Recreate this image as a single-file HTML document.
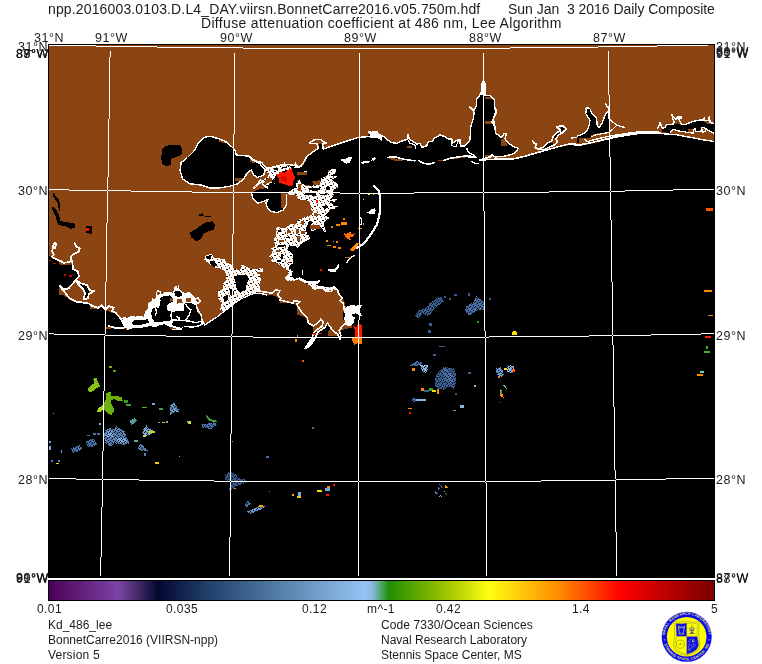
<!DOCTYPE html>
<html><head><meta charset="utf-8">
<style>
html,body{margin:0;padding:0;background:#fff;}
body{width:762px;height:664px;position:relative;overflow:hidden;font-family:"Liberation Sans",sans-serif;}
.t{will-change:transform;position:absolute;white-space:pre;font-size:12px;line-height:14px;color:#1c1c1c;transform-origin:0 0;}
#map{position:absolute;left:0;top:0;}
.a{font-size:12.5px;letter-spacing:0.5px;}
.c{letter-spacing:0.4px;}
</style></head><body>
<svg id="map" width="762" height="664" viewBox="0 0 762 664">
<defs><linearGradient id="cb" x1="0" x2="1" y1="0" y2="0"><stop offset="0.0000" stop-color="#4b0058"/><stop offset="0.1038" stop-color="#7b44a3"/><stop offset="0.1218" stop-color="#5c3680"/><stop offset="0.1639" stop-color="#020830"/><stop offset="0.2391" stop-color="#21406b"/><stop offset="0.3594" stop-color="#5a86b0"/><stop offset="0.4752" stop-color="#96c4f4"/><stop offset="0.4857" stop-color="#8abbe0"/><stop offset="0.5113" stop-color="#1f8f05"/><stop offset="0.5398" stop-color="#4aa000"/><stop offset="0.6030" stop-color="#a8c800"/><stop offset="0.6617" stop-color="#ffff10"/><stop offset="0.7684" stop-color="#ff8800"/><stop offset="0.8286" stop-color="#ff3000"/><stop offset="0.8586" stop-color="#ff0000"/><stop offset="1.0000" stop-color="#7a0000"/></linearGradient>
<pattern id="spk" width="8" height="7" patternUnits="userSpaceOnUse"><rect x="1" y="0" width="1" height="1" fill="#8b4513"/><rect x="5" y="1" width="1" height="2" fill="#8b4513"/><rect x="2" y="3" width="2" height="1" fill="#000"/><rect x="7" y="4" width="1" height="1" fill="#8b4513"/><rect x="0" y="5" width="1" height="1" fill="#000"/><rect x="4" y="6" width="1" height="1" fill="#8b4513"/></pattern>
<pattern id="spk2" width="5" height="5" patternUnits="userSpaceOnUse"><rect x="0" y="1" width="1" height="1" fill="#000"/><rect x="3" y="0" width="1" height="1" fill="#000"/><rect x="2" y="3" width="1" height="1" fill="#000"/><rect x="4" y="2" width="1" height="1" fill="#000"/><rect x="1" y="4" width="1" height="1" fill="#000" opacity="0.6"/><rect x="1" y="2" width="2" height="1" fill="#000" opacity="0.35"/></pattern>
<clipPath id="mc"><rect x="49" y="45" width="665" height="532"/></clipPath></defs>
<rect x="48" y="44" width="667" height="534" fill="#000" shape-rendering="crispEdges"/>
<g clip-path="url(#mc)" shape-rendering="crispEdges">
<path d="M49 45 L49 256 L49 256 L52.2 258.5 L58 261 L60 265.2 L67.2 265.2 L71.3 264 L73 269.3 L78.5 271.3 L79.2 276.8 L76 279.7 L70.5 285.2 L64.7 289.3 L59 286.8 L59 295.2 L63.8 295.2 L68.8 299.3 L74.7 302.3 L83.8 303 L89.7 304.7 L90.5 308.7 L98 308.7 L103 306.8 L105.5 310.2 L112.2 313 L114.7 311.3 L118 316 L121.3 320.2 L123.8 326 L126.3 329.3 L127.1 330.2 L131.8 328.4 L141.3 327.8 L150.7 326.1 L155.4 327.2 L160.2 324.9 L164.9 324.3 L169.6 326.7 L172 329.6 L181.4 329.6 L183.8 327.2 L193.2 327.8 L200.3 326.1 L205 323.7 L211.7 320 L218.3 315.8 L223.3 311.7 L230 306.7 L235 302.5 L240 299.2 L246.7 295.8 L253.3 293.3 L260 293 L267 294.7 L275 295.8 L280 300 L280 303.3 L293.3 303.3 L296.7 306.7 L296.7 315 L302.5 315.8 L305.8 318.3 L307.5 323.3 L312.5 326.7 L312.5 330.8 L316.7 331.7 L323.3 328.3 L326.7 325 L330.8 327.5 L328.3 331.7 L328.3 335.8 L338.3 335.8 L341.7 330 L345.8 329.2 L351.7 327.5 L351.7 320 L343.3 320 L343.3 312.5 L345.8 308.3 L345 303.3 L341.7 295.8 L337.5 292.5 L335 286.7 L330.8 288.3 L326.7 290.8 L321.7 288.3 L311.7 288.3 L311.7 283.3 L305 282.5 L300 279.2 L293.3 280 L285.8 278.3 L289.8 274.3 L291.4 274.8 L292.9 271.1 L288.7 269.5 L290.3 265.3 L292.9 263.2 L293.5 258.5 L292.4 253.7 L289.2 250.6 L287.7 248.5 L289.2 245.3 L296.1 246.4 L297.7 248.5 L300.8 244.2 L304.5 241.6 L308.2 240 L310.3 237.9 L305.6 230.5 L307.2 226.3 L309.3 220 L309.2 220.6 L312.4 222.7 L309.8 225.9 L311.4 231.1 L315.6 230.1 L317.7 225.9 L321.4 227.4 L324 231.7 L326.6 232.2 L324 225.9 L324 222.7 L326.1 220.1 L329.3 218 L325.1 215.3 L328.2 212.2 L330.3 209.5 L334.5 209 L337.7 206.4 L334.5 206.4 L331.4 202.7 L334.5 201.6 L337.7 199 L331.4 198.5 L334 194.2 L332.4 192.7 L334.5 189 L338.2 187.4 L337.7 183.7 L334.5 181.6 L332.4 179.5 L337.7 176.3 L333.5 175.3 L335.6 173.2 L336.6 170 L333.3 175 L328.3 176.7 L320 180 L312.5 181.7 L305 175 L305 169.2 L303.3 165.8 L306.7 156.7 L313.3 151.7 L318.3 148.3 L318.7 143.7 L323 144.2 L323.3 149.2 L330 146.7 L340 143.3 L350 140 L358.3 137.5 L366.7 136.7 L370 133.3 L376.7 131.7 L379.2 134.2 L385 137.5 L390.8 142.5 L396.7 143.3 L402.5 140.8 L407.5 139.2 L409.2 139.2 L413.3 141.7 L416.7 144.2 L420 143.3 L421.7 147.5 L426.7 145.8 L428.3 141.7 L432.5 141.7 L434.2 138.3 L440 135 L445 136.7 L448.3 139.2 L451.7 138.3 L452.5 143.3 L458.3 139.2 L460.8 145.8 L465 145.8 L467.5 143.3 L470 140 L470.8 126.7 L473.3 118.3 L474.2 112.5 L476.7 105 L476.7 99.2 L480 95 L485 95 L490 95.8 L494.2 99.2 L494.2 105.8 L495.8 111.7 L493.3 118.3 L494.2 123.3 L495.8 133.3 L495.8 133.3 L501.7 137.5 L506.7 141.7 L513.3 146.7 L518.3 148.3 L515.8 151.7 L512.5 154.2 L501.7 156.7 L495 156.7 L491.7 155 L488.3 157.5 L480 159.2 L480 160.8 L496.7 160 L511.7 159.7 L523.3 157 L535 153.7 L546.7 150.3 L558.3 147.5 L570 145.2 L580 145.8 L590 144.2 L600 141.7 L610 138.7 L623.3 136.2 L636.7 134.5 L645 134 L656.7 134 L666.7 134.7 L676.7 135.5 L690 138 L703.3 140.5 L714 142.3 L714 142.3 L714 45Z" fill="#8b4513"/>
<path d="M106.3 326.8 L110.5 327.3 L110.5 328.7 L106.3 328.7Z" fill="#8b4513"/>
<path d="M76.7 281.3 L81.3 284 L86.7 285.3 L89.2 289.7 L88.5 296.3 L85 298 L85.7 292.3 L82.3 289.7 L80.7 286 L77.3 284ZM251.7 192.5 L252.5 198.3 L257.5 203.3 L265 200.8 L268.3 199.2 L265.8 203.3 L267.5 208.3 L271.7 211.7 L277.5 212.5 L283.3 210 L286.3 205 L286.7 195 L287.5 192.5ZM302 166.5 L299.6 168 L292.5 167.4 L290.2 169.2 L285.4 170.4 L281.9 171.6 L279.5 173.3 L276 175.7 L273.6 179.3 L271.8 182.8 L268.9 184 L267.7 188.7 L265.4 188.1 L257.1 189.9 L252.4 192.2 L290.2 192.5 L292.5 189.9 L297.2 187.5 L297.2 180.4 L299.6 179.3 L302 184 L306.7 185.2 L312.6 185.7 L312.6 181.6 L305.5 175.1 L305.5 169.2 L303.7 166ZM250 157.4 L252.4 160.1 L257.1 161.3 L261.8 163.7 L264.8 166.5 L265.6 169.8 L263 174.5 L260 177.5 L257.1 178.3 L254.1 175.9 L251.8 171.6 L250 169.8ZM544.2 147.5 L548.3 143.3 L553.3 142.5 L552.5 145 L546.7 148.3ZM553.3 135.8 L556.7 132.5 L561.7 127.5 L564.2 130 L558.3 134.2 L555 138.3ZM585.7 108.4 L588.3 107.9 L590.4 109.4 L591.5 112.6 L594.6 115.7 L596.7 118.9 L597.3 126.2 L599.4 127.8 L602 123.1 L604.1 117.8 L606.2 112.6 L608.3 112.1 L608.8 117.8 L609.3 120.5 L609.3 131.5 L606.2 132 L602 133.1 L595.7 133.6 L591.5 135.2 L589.9 137.8 L585.2 138.3 L582.6 138.3 L579.4 138.3 L578.9 143 L576.8 143 L577.3 136.2 L581 134.6 L585.2 132.5 L587.8 129.4 L589.4 124.1 L589.9 120.5 L587.8 116.8 L586.2 113.6 L586.8 110.5ZM560.5 127.8 L563.1 126.8 L564.7 128.9 L562.6 130.7 L560.5 131.3ZM661.9 129.4 L665.6 127.6 L666.5 125.3 L673 124.3 L677.6 123.4 L682.2 125.3 L686.7 124.3 L691.3 122.5 L695 121.6 L699.6 120.7 L703.7 121.1 L705.1 123.4 L709.7 123.7 L714 124.1 L714 133.5 L708.8 130.3 L706 128.5 L701.4 127.1 L701 131.2 L695.9 131.7 L695 128.5 L693.2 129.4 L687.7 129.4 L687.7 132.2 L684 131.7 L677.6 130.8 L673.9 129.4 L671.1 130.8 L669.8 132.6 L666.5 132.6 L661.9 131.7ZM180 170 L181.2 162.5 L187.5 157.5 L193.8 151.2 L198.8 142.5 L203.8 137.5 L210 136.2 L218.8 138.8 L225 141.2 L231.2 146.2 L235 150 L236.2 155 L248.8 156.2 L252.5 160 L260 163.8 L265 170 L263.8 175 L257.5 177.5 L253.8 175 L251.2 170 L247.5 172.5 L243.8 178.8 L237.5 183.8 L230 186.2 L218.8 188 L210 188 L201.2 185 L190 183.8 L182.5 178.8ZM162 150 L165 146.2 L172.5 144.5 L180 145.5 L182.5 150 L181.2 155 L175 157.5 L171.2 158.8 L170.5 165 L166.2 166.2 L162 163.8 L161.2 157.5ZM190 232.5 L196.2 228.8 L201.2 225 L206.2 222.5 L212.5 221.2 L215 225 L213.8 229.5 L208.8 231.2 L203.8 233.8 L201.2 238.8 L196.2 241.2 L191.2 237.5ZM198.8 214.5 L202.5 213.2 L203.8 215.5 L211.2 216 L211.2 217 L198.8 216ZM53 192.5 L59.2 200 L60.5 210 L59.2 211.2 L57.5 202.5 L53 196.2ZM51.8 206.2 L55.5 208.8 L59.2 215 L60.5 221.2 L69.2 222.5 L74.2 223 L75.5 227.5 L70.5 228.8 L65.5 226.2 L58 225 L55.5 216.2 L51.8 208.8ZM85.5 226.2 L91.8 226.2 L91.8 234.5 L85.5 232.5Z" fill="#000"/>
<path d="M122.4 318.4 L123.5 316.6 L127.1 317.8 L131.8 315.4 L135.4 316.6 L140.1 315.4 L143.6 316.6 L145.4 310.7 L147.8 308.3 L147.8 303.6 L151.3 301.3 L152.5 298.3 L155.4 298.9 L156 293 L157.8 290 L160.7 291.2 L160.7 294.8 L164.3 292.4 L169.6 291.8 L173.1 293 L174.3 287.1 L176.1 285.3 L177.9 288.3 L178.5 285.3 L179.1 288.9 L182 291.8 L186.1 293 L188.5 291.8 L192 294.2 L195.6 297.7 L198.5 297.7 L200.9 300.7 L199.1 303.6 L196.8 303.6 L197.9 308.3 L201.5 314.3 L202.7 320.2 L205 323.7 L200.3 326.1 L193.2 327.8 L183.8 327.2 L181.4 329.6 L172 329.6 L169.6 326.7 L164.9 324.3 L160.2 324.9 L155.4 327.2 L150.7 326.1 L141.3 327.8 L131.8 328.4 L127.1 330.2 L124.7 327.2 L123 322.5ZM204.2 260 L205.8 255 L211.7 254.2 L214.2 257.5 L218.3 258.3 L225 259.2 L225.8 262.5 L230.8 264.2 L233.3 268.3 L240 270.8 L241.7 264.2 L246.7 266.7 L250.8 269.2 L256.7 269.2 L262.5 267.5 L262.5 271.7 L256.7 271.7 L260 276.7 L259.2 283.3 L260 290.8 L256.7 292.5 L250 293.7 L243.3 296.7 L240 299.2 L235 302.5 L230 306.7 L223.3 311.7 L220 310 L221.7 303.3 L218.3 298.3 L218.3 290.8 L222.5 289.2 L223.3 283.3 L226.7 280 L225 271.7 L220 268.3 L216.7 268.3 L213.3 266.7 L210 264.2ZM344.2 310 L346.7 306.7 L355 305.8 L360.8 305 L359.2 310.8 L361.7 315.8 L355.8 313.3 L350.8 315 L355 317.5 L353.3 323.3 L349.2 326.7 L345.8 325 L345 318.3ZM305 348.3 L308.3 342.5 L311.7 337.5 L314.2 338.3 L311.7 343.3 L308.7 347.5ZM255 273.3 L260 274.2 L260.8 280 L259.2 285 L260.8 291.7 L255 291.7ZM367.5 212.5 L371.7 209.2 L375 208 L375.8 210.8 L374.2 214.2 L370 214.2ZM275.5 229 L278.2 226.3 L280.8 228.4 L286.1 227.4 L291.4 223.7 L295.6 225.3 L299.8 220 L309.3 220 L307.2 226.3 L305.6 230.5 L310.3 237.9 L308.2 240 L304.5 241.6 L300.8 244.2 L297.7 248.5 L296.1 246.4 L289.2 245.3 L287.7 248.5 L289.2 250.6 L292.4 253.7 L293.5 258.5 L292.9 263.2 L290.3 265.3 L288.7 269.5 L292.9 271.1 L291.4 274.8 L294 279 L291.9 281.1 L287.1 280.6 L285.6 278 L289.8 274.3 L286.1 269.5 L281.9 266.4 L277.6 263.2 L270.3 261.1 L272.9 258.5 L269.2 256.4 L272.4 253.2 L271.3 248.5 L275.5 246.4 L273.4 239 L276.6 235.8 L275.5 232.6ZM296.6 278 L299.8 277.4 L306.1 280.6 L311.4 281.7 L319.8 280.1 L318.8 283.2 L315.6 285.3 L321.9 285.9 L327.2 287.5 L333.5 286.4 L337.7 290 L328.2 290 L319.8 288.5 L312.4 288.5 L310.3 285.3 L305.1 283.2 L300.8 281.1ZM287.1 192.7 L291.3 190 L295.5 187.9 L296.6 182.6 L299.8 179.5 L301.9 183.7 L306.1 185.8 L312.4 185.8 L315.6 181.6 L319.8 180.5 L321.9 177.9 L327.2 175.3 L330.3 173.2 L329.3 170 L336.6 170 L335.6 173.2 L333.5 175.3 L337.7 176.3 L332.4 179.5 L334.5 181.6 L337.7 183.7 L338.2 187.4 L334.5 189 L332.4 192.7 L334 194.2 L331.4 198.5 L337.7 199 L334.5 201.6 L331.4 202.7 L334.5 206.4 L337.7 206.4 L334.5 209 L330.3 209.5 L328.2 212.2 L325.1 215.3 L329.3 218 L326.1 220.1 L324 222.7 L324 225.9 L326.6 232.2 L324 231.7 L321.4 227.4 L317.7 225.9 L315.6 230.1 L311.4 231.1 L309.8 225.9 L312.4 222.7 L309.2 220.6 L306.1 222.7 L304 226.9 L306.1 231.1 L305 237.5 L301.9 240 L285 240 L285 231.1 L288.2 227.4 L291.3 223.8 L294.5 224.8 L298.7 219.5 L304 217.4 L310.3 215.3 L313.5 212.2 L310.8 209 L310.3 202.7 L306.1 199.5 L298.7 199.5 L295.5 194.2 L289.2 195.3ZM302.4 172.1 L306.6 171.6 L307.1 173.7 L303.4 174.4ZM339.2 159.7 L345 159.2 L350 156.7 L352 157.5 L350 162.5 L346.7 163.7ZM360 162 L366.7 160.8 L370 161.3 L369.2 163 L361.7 163.7ZM371.3 159.2 L375 157 L376 158.3 L373.3 160.8ZM367.5 130.8 L371.7 131.7 L377 131.3 L377 134.2 L372.5 134.2 L368.3 132.5ZM265.4 168.6 L267.7 167.4 L273.6 166.8 L279.5 165.7 L285.4 164.5 L289 165.7 L296.1 163.9 L297.2 166.3 L302 166.3 L299.6 168 L292.5 167.4 L290.2 169.2 L285.4 170.4 L281.9 171.6 L279.5 173.3 L276 175.7 L273.6 179.3 L271.8 182.8 L268.9 184 L267.7 188.7 L265.4 188.1 L263 185.2 L259.4 184 L255.9 187.5 L254.7 189.3 L252.4 188.7 L257.1 182.8 L260.6 179.3 L263 174.5ZM303.1 171.6 L306.7 171.2 L307.6 173.3 L305.5 174.5 L302.9 173.9ZM370 131.7 L377.5 130.8 L379.2 134.2 L382.5 136.7 L381.7 140.8 L376.7 137.5 L370 136.7ZM480 95 L482 83.3 L483.7 80.8 L485.3 83.3 L485.3 95ZM370.8 160.8 L373.3 157.5 L375.8 157.5 L373.3 160ZM570.5 137 L576.8 136.7 L576.8 138.4 L570.5 138.6ZM628.3 132 L640 131.3 L656.7 131.3 L656.7 133.7 L640 134 L628.3 134.3ZM650 131.2 L655.5 131.2 L661 131.7 L661.5 133.8 L655.5 134.2 L650 134.2Z" fill="#fff"/>
<path d="M204.2 260 L205.8 255 L211.7 254.2 L214.2 257.5 L218.3 258.3 L225 259.2 L225.8 262.5 L230.8 264.2 L233.3 268.3 L240 270.8 L241.7 264.2 L246.7 266.7 L250.8 269.2 L256.7 269.2 L262.5 267.5 L262.5 271.7 L256.7 271.7 L260 276.7 L259.2 283.3 L260 290.8 L256.7 292.5 L250 293.7 L243.3 296.7 L240 299.2 L235 302.5 L230 306.7 L223.3 311.7 L220 310 L221.7 303.3 L218.3 298.3 L218.3 290.8 L222.5 289.2 L223.3 283.3 L226.7 280 L225 271.7 L220 268.3 L216.7 268.3 L213.3 266.7 L210 264.2ZM275.5 229 L278.2 226.3 L280.8 228.4 L286.1 227.4 L291.4 223.7 L295.6 225.3 L299.8 220 L309.3 220 L307.2 226.3 L305.6 230.5 L310.3 237.9 L308.2 240 L304.5 241.6 L300.8 244.2 L297.7 248.5 L296.1 246.4 L289.2 245.3 L287.7 248.5 L289.2 250.6 L292.4 253.7 L293.5 258.5 L292.9 263.2 L290.3 265.3 L288.7 269.5 L292.9 271.1 L291.4 274.8 L294 279 L291.9 281.1 L287.1 280.6 L285.6 278 L289.8 274.3 L286.1 269.5 L281.9 266.4 L277.6 263.2 L270.3 261.1 L272.9 258.5 L269.2 256.4 L272.4 253.2 L271.3 248.5 L275.5 246.4 L273.4 239 L276.6 235.8 L275.5 232.6ZM296.6 278 L299.8 277.4 L306.1 280.6 L311.4 281.7 L319.8 280.1 L318.8 283.2 L315.6 285.3 L321.9 285.9 L327.2 287.5 L333.5 286.4 L337.7 290 L328.2 290 L319.8 288.5 L312.4 288.5 L310.3 285.3 L305.1 283.2 L300.8 281.1ZM287.1 192.7 L291.3 190 L295.5 187.9 L296.6 182.6 L299.8 179.5 L301.9 183.7 L306.1 185.8 L312.4 185.8 L315.6 181.6 L319.8 180.5 L321.9 177.9 L327.2 175.3 L330.3 173.2 L329.3 170 L336.6 170 L335.6 173.2 L333.5 175.3 L337.7 176.3 L332.4 179.5 L334.5 181.6 L337.7 183.7 L338.2 187.4 L334.5 189 L332.4 192.7 L334 194.2 L331.4 198.5 L337.7 199 L334.5 201.6 L331.4 202.7 L334.5 206.4 L337.7 206.4 L334.5 209 L330.3 209.5 L328.2 212.2 L325.1 215.3 L329.3 218 L326.1 220.1 L324 222.7 L324 225.9 L326.6 232.2 L324 231.7 L321.4 227.4 L317.7 225.9 L315.6 230.1 L311.4 231.1 L309.8 225.9 L312.4 222.7 L309.2 220.6 L306.1 222.7 L304 226.9 L306.1 231.1 L305 237.5 L301.9 240 L285 240 L285 231.1 L288.2 227.4 L291.3 223.8 L294.5 224.8 L298.7 219.5 L304 217.4 L310.3 215.3 L313.5 212.2 L310.8 209 L310.3 202.7 L306.1 199.5 L298.7 199.5 L295.5 194.2 L289.2 195.3ZM265.4 168.6 L267.7 167.4 L273.6 166.8 L279.5 165.7 L285.4 164.5 L289 165.7 L296.1 163.9 L297.2 166.3 L302 166.3 L299.6 168 L292.5 167.4 L290.2 169.2 L285.4 170.4 L281.9 171.6 L279.5 173.3 L276 175.7 L273.6 179.3 L271.8 182.8 L268.9 184 L267.7 188.7 L265.4 188.1 L263 185.2 L259.4 184 L255.9 187.5 L254.7 189.3 L252.4 188.7 L257.1 182.8 L260.6 179.3 L263 174.5Z" fill="url(#spk)"/>
<path d="M151.9 309.5 L155.4 307.2 L159 307.8 L160.7 300.7 L160.2 297.7 L164.9 295.9 L169.6 295.4 L172.6 297.7 L173.1 301.3 L169.6 303 L167.2 304.8 L167.2 310.1 L170.8 311.3 L172 312.5 L176.7 310.7 L183.8 311.3 L184.4 303.6 L190.9 303 L195.6 305.4 L196.8 310.7 L200.3 315.4 L201.5 320.7 L195.6 321.9 L190.9 320.7 L186.1 319.6 L179.1 320.2 L173.1 318.4 L170.2 320.7 L163.7 321.6 L157.8 322.3 L154.3 321.6 L151.9 317.8 L151.3 313.1ZM174.3 291.8 L177.9 290.6 L181.4 292.4 L182 295.4 L178.5 297.1 L174.9 295.9ZM133 320.7 L137.7 319.6 L143.6 320.2 L147.2 319 L149.5 322.5 L143.6 324.3 L136.5 325.5 L131.8 324.3ZM173.7 321.3 L181.4 320.7 L186.1 321.6 L195.6 323.1 L201.5 321.9 L200.3 324.6 L193.2 326.3 L184.4 326.1 L181.4 327.8 L174.3 327.2 L170.8 324.3ZM120 320.2 L121.8 319.6 L122.4 326.7 L120 327.2ZM205.8 256.7 L210 255 L211.7 258.3 L207.5 259.2ZM210 260.8 L214.2 260.8 L216.7 265.8 L213.3 267.5 L210 263.3ZM234.2 277.5 L238.3 275 L246.7 275 L249.2 279.2 L246.7 283.3 L245.8 290 L240 292.5 L236.7 289.2 L235.8 283.3ZM223.3 296.7 L227.5 295 L228.3 300 L224.2 301.7ZM229.2 288.3 L233.3 290 L234.2 295 L230.8 296.7ZM277.6 229.5 L280.8 229.5 L280.8 232.1 L277.6 232.1ZM280.8 253.7 L283.4 253.7 L283.4 258.5 L280.8 258.5ZM286.1 236.9 L289.8 236.7 L289.8 237.9 L286.1 238.1ZM277.6 245.3 L286.1 244.8 L286.1 246.4 L277.6 246.9ZM276.6 260.6 L280.8 260.1 L280.8 261.6 L276.6 261.9ZM314.5 283.2 L317.7 282.7 L317.7 284.5 L314.5 284.8ZM308.7 187.9 L314.5 188.4 L319.8 187.4 L319.8 190 L314.5 191.1 L309.2 190ZM305 193.2 L311.4 192.7 L316.6 193.7 L315.6 195.8 L310.3 195.3 L305.6 195.3ZM325.6 186.9 L329.3 185.8 L329.8 189.5 L326.1 190.6ZM322.9 205.8 L327.2 205.3 L328.2 207.9 L324 209ZM330.3 200.6 L333.5 201.1 L332.4 203.7 L330.3 203.2ZM320.8 193.7 L327.2 193.4 L327.2 195.1 L320.8 195.3ZM331.4 173.7 L334.5 173.7 L334.5 175.8 L331.4 175.8ZM273.6 168.6 L278.3 168 L278.3 169.8 L274.2 170.4ZM281.9 166.8 L286.6 166.3 L286.6 168 L282.5 168.6ZM290.2 166.3 L294.9 165.3 L295.5 166.8 L290.7 167.7Z" fill="#000"/>
<path d="M169.6 298 L172.9 297.7 L173.1 300.7 L170.2 301.8ZM186.1 297.7 L190.9 297.7 L190.9 302.4 L186.1 302.4ZM176.7 299.5 L182 298.9 L182.6 303 L177.3 303.6ZM123.5 326.1 L126.5 325.5 L127.1 329 L124.1 329.4ZM169.6 327.2 L175.5 327.2 L176.7 329.4 L170.8 329.4ZM195.6 298.9 L197.9 298.9 L199.7 301.3 L197.4 303 L195.6 301.8ZM156.8 291.8 L159.6 291.6 L159.9 294.2 L157.2 294.8ZM296.6 235.8 L299.8 235.8 L299.8 241.1 L296.6 241.1ZM301.4 230.5 L304.5 230.5 L304.5 233.7 L301.4 233.7ZM310.3 225.3 L317.7 225.3 L317.7 229 L310.3 229ZM278.7 240 L284 239.5 L284.5 241.6 L279.2 242.1ZM286.6 230.5 L290.3 230 L290.8 233.2 L287.1 233.7ZM275.5 250 L279.8 249.5 L280.3 251.6 L276.1 252.1ZM312.4 181.1 L319.8 181.1 L318.7 184.2 L312.9 184.8ZM297.1 171.6 L307.1 171.6 L307.1 174.7 L297.1 174.7ZM311.4 225.3 L319.8 225.3 L320.8 229 L312.4 229.6ZM328.2 170 L331.4 170 L331.4 171.6 L328.2 171.6ZM298.2 183.7 L300.8 184.2 L300.8 191.1 L298.2 190.6ZM314 213.2 L318.7 213.7 L318.2 216.4 L313.5 215.8ZM300.8 220.6 L304.5 220.4 L304 224.8 L300.8 224.3ZM295.5 229 L298.7 228.5 L299.2 233.2 L296.1 233.8ZM280.8 193.3 L285.8 193.3 L285.8 207.5 L280.8 208.3ZM312.5 181.7 L320 181.7 L320 185 L312.5 185ZM264.2 172.2 L269.5 172.8 L267.7 176.9 L264.2 179.3 L261.2 179.8 L261.8 175.7ZM266.5 178.7 L272.4 178.1 L272.4 181.6 L267.7 182.8 L265.4 185.2 L263 184ZM297.2 172.2 L305.5 171.6 L305.5 174.5 L297.2 174.8ZM312.6 181 L320.9 181 L319.7 184.6 L312.6 184.6ZM485 120.8 L493.3 120.8 L493.3 124.2 L485 124.2ZM485 96.7 L492.5 96.7 L492.5 99.2 L485 99.2ZM407 145.8 L411.7 145.8 L411.7 147.7 L407 147.7ZM388.3 158 L403.3 159.2 L403.3 161.3 L391.7 160.3ZM438.3 159.7 L444.2 159.7 L444.2 161 L438.3 161ZM450 157.8 L466.7 155.3 L470 156.7 L453.3 159.2ZM485 155 L492.5 155 L495 158.3 L485 159.2ZM485 120.8 L491.7 120.8 L491.7 124.2 L485 124.2ZM500.8 139.2 L505 138.7 L507.5 145.8 L500.8 145.8ZM485 155 L490.8 154.7 L489.2 157.5 L485 158ZM218.8 139 L225 141.5 L225 143 L218.8 142ZM235 178 L243 178 L241.2 180.5 L235 180.5ZM249.5 158.2 L255 161.2 L255 163 L249.5 162Z" fill="#8b4513"/>
<path d="M54.7 243 L53 246 L52.2 251 L53.8 254.3 L52.2 256.8 L58 260.2 L60.5 261 L63.8 262.7 L68 262.3 L71.3 261 L71.3 256 L74.7 253.5 L78.8 251.8 L79.7 248.5 L76.3 246.8 L74.7 243" fill="none" stroke="#fff" stroke-width="1.8" stroke-linejoin="round" stroke-linecap="round"/>
<path d="M53.8 243.5 L55.5 242.7 L56.3 244.3 L54.7 248.5 L53 247.7Z" fill="none" stroke="#fff" stroke-width="1.8" stroke-linejoin="round" stroke-linecap="round"/>
<path d="M72.2 261 L73 269.3 L78 271.3 L78.8 276.8 L75.5 280.2 L73 283.5 L68.8 288 L64.7 289.7 L59.7 286" fill="none" stroke="#fff" stroke-width="1.8" stroke-linejoin="round" stroke-linecap="round"/>
<path d="M75.5 280.2 L81.3 283.5 L87.2 285.2 L89.7 290.2 L93.8 291 L88.8 294.3 L88 298.5 L83.8 299.3 L85 292.7 L82.7 288.5 L80.5 286.8 L77.2 282.7" fill="none" stroke="#fff" stroke-width="1.8" stroke-linejoin="round" stroke-linecap="round"/>
<path d="M59.7 286 L63.8 291 L69.7 298.5 L75.5 301.5 L83.8 302.7 L88.8 303.5 L91.7 305.7 L98 308 L101.3 305.2 L105.5 309.3 L108.8 306 L113.8 307.7 L112.2 311 L115.5 312.7 L121.3 319.3 L124.7 326" fill="none" stroke="#fff" stroke-width="1.8" stroke-linejoin="round" stroke-linecap="round"/>
<path d="M108.8 326 L114.7 327.7 L121.3 328.5 L126.3 326.8" fill="none" stroke="#fff" stroke-width="1.8" stroke-linejoin="round" stroke-linecap="round"/>
<path d="M167.2 305.4 L170.2 306.6 L172 310.7 L170.8 315.4 L172 320.2" fill="none" stroke="#fff" stroke-width="1.4" stroke-linejoin="round" stroke-linecap="round"/>
<path d="M186.1 304.8 L188.5 308.3 L190.9 309.5 L189.1 315.4 L186.1 319.6" fill="none" stroke="#fff" stroke-width="1.4" stroke-linejoin="round" stroke-linecap="round"/>
<path d="M176.7 316.6 L179.1 317.8 L179.1 320.2" fill="none" stroke="#fff" stroke-width="1.4" stroke-linejoin="round" stroke-linecap="round"/>
<path d="M155.4 307.8 L156.6 311.9 L155.4 315.4" fill="none" stroke="#fff" stroke-width="1.4" stroke-linejoin="round" stroke-linecap="round"/>
<path d="M163.7 321.9 L169.6 323.1 L173.1 326.7 L181.4 329" fill="none" stroke="#fff" stroke-width="2" stroke-linejoin="round" stroke-linecap="round"/>
<path d="M195.6 298.9 L197.9 297.7 L200.5 300.7 L198.5 303.4 L196.2 302.4 L195.6 298.9" fill="none" stroke="#fff" stroke-width="1.2" stroke-linejoin="round" stroke-linecap="round"/>
<path d="M204.2 325.3 L211.7 320.3 L218.3 316.2 L223.3 312 L230 307 L235 302.8 L240 299.5 L246.7 296.2 L253.3 293.7 L260 293.3 L267 295" fill="none" stroke="#fff" stroke-width="1.3" stroke-linejoin="round" stroke-linecap="round"/>
<path d="M255 290.8 L263.3 291.7 L272.5 293.3 L275.8 290 L280 290.8 L277.5 295 L280.8 298.3 L280 300 L293.3 303.3 L294.2 300.8 L300 301.7 L296.7 304.2 L302.5 313.3 L307.5 318.3 L308.3 323.3 L313.3 325.8 L317.5 323.3 L320.8 319.2 L323.3 321.7 L321.7 326.7 L317.5 329.2 L314.2 332.5 L311.7 338.3 L308.3 343.3 L305 348.3 L309.2 346.7 L312.5 342.5 L315.8 336.7 L318.3 331.7 L325 327.5 L327.5 322.5 L329.2 325.8 L333.3 330.8 L337.5 334.2 L340 339.2 L340.8 335 L339.2 330.8 L342.5 325.8 L345.8 323.3 L345 318.3 L345.8 314.2 L350.8 311.7 L355 311.7 L360.8 315 L358.3 310.8 L360.8 305.8 L356.7 306.7 L351.7 305.8 L346.7 307.5 L344.2 310 L343.3 303.3 L340 300.8 L342.5 297.5 L339.2 295 L337.5 290 L334.2 286.7 L330.8 291.7 L325.8 290.8 L321.7 286.7 L315 289.2 L311.7 285.8 L319.2 281.7 L313.3 281.7 L308.3 282.5 L305 280.8 L299.2 278.3 L294.2 280 L290.8 278.3 L285.8 278.3 L290 273.3 L290.8 270" fill="none" stroke="#fff" stroke-width="1.6" stroke-linejoin="round" stroke-linecap="round"/>
<path d="M374.2 185.8 L378.3 190 L380 196.7 L380.3 206.7 L379.2 216.7 L376.7 225 L371.7 233.3 L366.7 240 L361.7 245 L356.7 248.3" fill="none" stroke="#fff" stroke-width="2.2" stroke-linejoin="round" stroke-linecap="round"/>
<path d="M346.7 262.5 L350.8 257.5 L354.2 255.8" fill="none" stroke="#fff" stroke-width="1.5" stroke-linejoin="round" stroke-linecap="round"/>
<path d="M328.3 270 L335 270.8 L338.3 265.8" fill="none" stroke="#fff" stroke-width="1.8" stroke-linejoin="round" stroke-linecap="round"/>
<path d="M360.8 217.5 L361.7 221.7 L360.8 225" fill="none" stroke="#fff" stroke-width="1.2" stroke-linejoin="round" stroke-linecap="round"/>
<path d="M302.4 271.1 L302.7 274.3" fill="none" stroke="#fff" stroke-width="1.6" stroke-linejoin="round" stroke-linecap="round"/>
<path d="M330.3 270.6 L334.6 270.4 L337.7 267.4 L338.3 265.3" fill="none" stroke="#fff" stroke-width="2.2" stroke-linejoin="round" stroke-linecap="round"/>
<path d="M251.7 192.5 L252.5 198.3 L257.5 203.3 L265 200.8 L268.3 199.2 L265.8 203.3 L267.5 208.3 L271.7 211.7 L277.5 212.5 L283.3 210 L286.3 205 L286.7 195" fill="none" stroke="#fff" stroke-width="1.3" stroke-linejoin="round" stroke-linecap="round"/>
<path d="M250 156.7 L255 160.8 L261.7 162.5 L266.7 168.3 L275 166.7 L283.3 164.2 L291.7 165 L300 166.7 L303.3 163.3 L306.7 156.7 L313.3 151.7 L318.3 148.3 L317.5 144.2 L313.3 143.3 L309.2 143.3 L313.3 140 L320 139.2 L323.3 141.7 L326.7 143.3 L322.5 144.2 L323.3 149.2 L330 146.7 L340 143.3 L350 140 L358.3 137.5 L366.7 136.7 L377 137" fill="none" stroke="#fff" stroke-width="1.4" stroke-linejoin="round" stroke-linecap="round"/>
<path d="M328.3 173.3 L331.7 170 L335.8 169.7 L333.3 173.3 L330.8 175" fill="none" stroke="#fff" stroke-width="1.5" stroke-linejoin="round" stroke-linecap="round"/>
<path d="M284.3 162.7 L285.4 166.8" fill="none" stroke="#fff" stroke-width="1.3" stroke-linejoin="round" stroke-linecap="round"/>
<path d="M295.5 162.7 L296.7 166.3" fill="none" stroke="#fff" stroke-width="1.3" stroke-linejoin="round" stroke-linecap="round"/>
<path d="M370 133.3 L376.7 131.7 L379.2 134.2 L385 137.5 L390.8 142.5 L396.7 143.3 L402.5 140.8 L407.5 139.2 L408 134.2 L409.2 139.2 L413.3 141.7 L416.7 144.2 L420 143.3 L421.7 147.5 L426.7 145.8 L428.3 141.7 L432.5 141.7 L434.2 138.3 L440 135 L445 136.7 L448.3 139.2 L451.7 138.3 L452.5 143.3 L458.3 139.2 L460.8 145.8 L465 145.8 L467.5 143.3 L470 140 L470.8 126.7 L473.3 118.3 L474.2 112.5 L471.7 109.2 L469.2 106.7 L474.2 110 L476.7 105 L476.7 99.2 L480 95 L482.5 90 L482 83.3 L483.3 80.8 L485 83.3 L485 89.2 L485 95 L490 95.8 L494.2 99.2 L494.2 105.8 L495.8 111.7 L493.3 118.3 L494.2 123.3 L495.8 133.3 L497 134.2" fill="none" stroke="#fff" stroke-width="1.4" stroke-linejoin="round" stroke-linecap="round"/>
<path d="M407.5 139.2 L410 143.3 L415 145 L415.8 148.3" fill="none" stroke="#fff" stroke-width="1.3" stroke-linejoin="round" stroke-linecap="round"/>
<path d="M387.5 157.5 L395 156.7 L403.3 159.2 L415 160.8" fill="none" stroke="#fff" stroke-width="1.6" stroke-linejoin="round" stroke-linecap="round"/>
<path d="M419.2 160.8 L423.3 163.3 L430 164.2 L434.2 162.5" fill="none" stroke="#fff" stroke-width="1.6" stroke-linejoin="round" stroke-linecap="round"/>
<path d="M444.2 160.3 L450 158.3 L460 156.7 L466.7 155.8 L475 156.7" fill="none" stroke="#fff" stroke-width="1.6" stroke-linejoin="round" stroke-linecap="round"/>
<path d="M466.7 148.3 L468.3 152.5 L473.3 155 L475.8 157.5 L468.3 157.5" fill="none" stroke="#fff" stroke-width="1.4" stroke-linejoin="round" stroke-linecap="round"/>
<path d="M471.7 161.7 L475 163.3 L478.3 163.3" fill="none" stroke="#fff" stroke-width="1.4" stroke-linejoin="round" stroke-linecap="round"/>
<path d="M480 160 L485 158.3 L490 157.5 L492.5 155 L497 158.3" fill="none" stroke="#fff" stroke-width="1.5" stroke-linejoin="round" stroke-linecap="round"/>
<path d="M450.8 138.3 L451.7 145.8 L456.7 146.7 L457.5 140 L460.8 140 L460.8 146.7" fill="none" stroke="#fff" stroke-width="1.1" stroke-linejoin="round" stroke-linecap="round"/>
<path d="M484.2 95 L490 95.8 L494.2 99.2 L494.2 105.8 L496.7 111.7 L494.2 117.5 L491.7 121.7 L495 126.7 L495.8 133.3 L501.7 137.5 L504.2 133.3 L506.7 134.2 L505 138.3 L506.7 141.7 L513.3 146.7 L518.3 148.3 L515.8 151.7 L512.5 154.2 L501.7 156.7 L495 156.7 L491.7 155 L488.3 157.5 L480 160" fill="none" stroke="#fff" stroke-width="1.4" stroke-linejoin="round" stroke-linecap="round"/>
<path d="M480 160 L496.7 159.2 L511.7 159.2 L523.3 156.7 L535 153.3 L546.7 150 L558.3 146.7 L570 143.8 L580 144.7 L590 143 L600 140.5 L607 138.8" fill="none" stroke="#fff" stroke-width="1.6" stroke-linejoin="round" stroke-linecap="round"/>
<path d="M532.5 140.8 L534.2 143.3 L536.7 143.3 L535 147.5 L538.3 149.2 L544.2 146.7 L546.7 143.3 L551.7 140.8 L553.3 135.8 L556.7 132.5 L560.8 130.8 L556.7 126.7 L562.5 125.8 L566.7 129.2 L563.3 132.5 L558.3 135 L555.8 139.2 L557.5 141.7 L554.2 145 L548.3 147.5 L543.3 150 L538.3 149.2" fill="none" stroke="#fff" stroke-width="1.5" stroke-linejoin="round" stroke-linecap="round"/>
<path d="M577.3 136.2 L581 134.6 L585.2 132.5 L587.8 129.4 L589.4 124.1 L589.9 120.5 L587.8 116.8 L585.7 113.6 L586.2 110.5 L585.7 108.4 L588.3 107.6 L590.4 109.4 L591.5 112.6 L594.6 115.7 L596.7 118.9 L597.3 126.2 L599.4 127.8 L602 123.1 L604.1 117.8 L606.2 112.6 L608.3 112.1 L608.8 117.8 L610.4 120.5 L617.2 125.2 L624 127.3" fill="none" stroke="#fff" stroke-width="1.3" stroke-linejoin="round" stroke-linecap="round"/>
<path d="M617.2 125.2 L609.3 132" fill="none" stroke="#fff" stroke-width="1" stroke-linejoin="round" stroke-linecap="round"/>
<path d="M605.7 103.7 L606.7 106.3 L608.8 107.3 L609.3 109.4 L607.8 111.5" fill="none" stroke="#fff" stroke-width="1.6" stroke-linejoin="round" stroke-linecap="round"/>
<path d="M560 146.2 L570.5 143.6 L575.7 145.7 L581 145.1 L591.5 142.5 L602 140.4 L609.3 138.8 L618.8 136.7 L628.2 135.2 L640 133.4" fill="none" stroke="#fff" stroke-width="1.2" stroke-linejoin="round" stroke-linecap="round"/>
<path d="M584.7 139.4 L587.3 141.5 L591.5 140.4 L602 137.8 L609.3 136.2 L618.8 134.6 L628.2 133.4 L637.7 131.8" fill="none" stroke="#fff" stroke-width="1.3" stroke-linejoin="round" stroke-linecap="round"/>
<path d="M591.5 136.7 L594.6 135.2 L602 133.6 L609.3 132.5" fill="none" stroke="#fff" stroke-width="1.2" stroke-linejoin="round" stroke-linecap="round"/>
<path d="M560 126.8 L563.7 125.7 L566.3 128.9 L563.1 131.5 L560 133.1" fill="none" stroke="#fff" stroke-width="1.3" stroke-linejoin="round" stroke-linecap="round"/>
<path d="M610 137.5 L623.3 135.2 L636.7 133.5 L645 133.2 L656.7 133.3 L666.7 134 L676.7 134.8 L690 137.3 L703.3 139.8 L714 141.5" fill="none" stroke="#fff" stroke-width="1.4" stroke-linejoin="round" stroke-linecap="round"/>
<path d="M657.3 128.5 L659.2 125.7 L660.1 122.5 L661.5 126.6 L662.4 128 L665.2 127.6 L666.5 124.8 L673 124.1 L674.3 121.6 L672.5 118.8 L672 114.2 L673.9 117.9 L676.2 119.8 L677.6 116.5 L681.7 116.5 L681.7 117.9 L678.5 117.9 L679.4 120.7 L682.2 124.8 L686.7 124.1 L691.3 122 L695 121.1 L699.6 120 L703.3 119.8 L704.7 117.5 L704.2 120.7 L708.3 120.4 L709.3 117 L710.2 122.5 L714 123.4" fill="none" stroke="#fff" stroke-width="1.4" stroke-linejoin="round" stroke-linecap="round"/>
<path d="M670.7 132.2 L672 130.3 L673.9 129.4 L677.6 130.8 L684 131.7 L687.7 132.6 L693.2 133.1 L694.1 128.9 L695.5 128.9 L695.9 131.7 L701 131.2 L701.4 127.6 L704.2 127.6 L706 129.4 L705.1 131.7 L702.8 132.2 L702.4 129.4" fill="none" stroke="#fff" stroke-width="1.3" stroke-linejoin="round" stroke-linecap="round"/>
<path d="M706 128.9 L709.7 131.2 L714 133.5" fill="none" stroke="#fff" stroke-width="1.3" stroke-linejoin="round" stroke-linecap="round"/>
<path d="M180 170 L181.2 162.5 L187.5 157.5 L193.8 151.2 L198.8 142.5 L203.8 137.5 L210 136.2 L218.8 138.8 L225 141.2 L231.2 146.2 L235 150 L236.2 155 L248.8 156.2 L252.5 160 L260 163.8 L265 170 L263.8 175 L257.5 177.5 L253.8 175 L251.2 170 L247.5 172.5 L243.8 178.8 L237.5 183.8 L230 186.2 L218.8 188 L210 188 L201.2 185 L190 183.8 L182.5 178.8Z" fill="none" stroke="#fff" stroke-width="1.4" stroke-linejoin="round" stroke-linecap="round"/>
<path d="M88 388.3 L92.2 384.2 L94.7 383.3 L93 379.2 L96.3 377.5 L98 382.5 L100.5 386.7 L96.3 388.3 L92.2 391.7 L88.8 392.5Z" fill="#86c010"/>
<rect x="108.8" y="365.8" width="3.4" height="2.5" fill="#7db800"/>
<rect x="113" y="370" width="2.5" height="2" fill="#5aa010"/>
<path d="M105.5 393.3 L110.5 391.7 L111.3 395.8 L121.3 396.7 L123 400.8 L118.8 401.3 L113.8 399.2 L110.5 400.8 L112.2 405.8 L114.7 410 L111.3 415 L107.2 413.3 L103.8 409.2 L99.7 412.5 L97.2 411.7 L98 408.3 L103 405 L105.5 400Z" fill="#6db010"/>
<path d="M97.2 411.7 L98 408.3 L103 405 L103.8 409.2 L99.7 412.5Z" fill="#a8d820"/>
<rect x="123.8" y="400.3" width="4.2" height="2.2" fill="#3a9a20"/>
<rect x="126" y="404.2" width="5" height="1.6" fill="#3aa040"/>
<rect x="142.2" y="406.7" width="5" height="1.3" fill="#5ab030"/>
<rect x="159.3" y="407.5" width="3.4" height="2.5" fill="#4a9a60"/>
<path d="M171.3 404.2 L173.8 403 L175 404.2 L175 410 L172.2 414.2 L169.7 415 L171.3 410Z" fill="#7aa8d8"/>
<path d="M171.3 404.2 L173.8 403 L175 404.2 L175 410 L172.2 414.2 L169.7 415 L171.3 410Z" fill="url(#spk2)"/>
<rect x="152.2" y="403.3" width="2.5" height="1.7" fill="#7aa8d8"/>
<path d="M129.7 420.8 L134.7 418.3 L137.2 420.8 L134.7 423.3 L131.3 424.7Z" fill="#5a98a0"/>
<rect x="158" y="422" width="2" height="1.3" fill="#7aa8d8"/>
<rect x="162.2" y="422" width="2.5" height="0.8" fill="#c8d020"/>
<rect x="166.3" y="420.8" width="1.7" height="2.2" fill="#7aa8d8"/>
<path d="M143.8 427.5 L146.3 425 L149.7 429.2 L154.7 430.8 L151.3 434.2 L145.5 435.8 L142.2 433.3Z" fill="#7aa8d8"/>
<path d="M143.8 427.5 L146.3 425 L149.7 429.2 L154.7 430.8 L151.3 434.2 L145.5 435.8 L142.2 433.3Z" fill="url(#spk2)"/>
<rect x="148" y="431.3" width="6.7" height="1.7" fill="#c8d020"/>
<rect x="143.3" y="435" width="2.7" height="1.7" fill="#d8d820"/>
<rect x="133.8" y="439.7" width="4.2" height="2" fill="#6aa890"/>
<path d="M104.7 430.8 L109.7 428.3 L114.7 429.2 L115.5 425.8 L119.7 428.3 L124.7 430.8 L126.3 436.7 L129.7 443.3 L123 445 L114.7 443.3 L111.3 446.7 L105.5 443.3 L103.8 436.7Z" fill="#5580b0"/>
<path d="M104.7 430.8 L109.7 428.3 L114.7 429.2 L115.5 425.8 L119.7 428.3 L124.7 430.8 L126.3 436.7 L129.7 443.3 L123 445 L114.7 443.3 L111.3 446.7 L105.5 443.3 L103.8 436.7Z" fill="url(#spk2)"/>
<path d="M106.3 431.7 L112.2 430.8 L113.8 436.7 L109.7 438.3 L106.3 435.8Z" fill="#7aa8d8"/>
<path d="M106.3 431.7 L112.2 430.8 L113.8 436.7 L109.7 438.3 L106.3 435.8Z" fill="url(#spk2)"/>
<path d="M114.7 438.3 L124.7 437.5 L128 442.5 L119.7 443.3Z" fill="#7aa8d8"/>
<path d="M114.7 438.3 L124.7 437.5 L128 442.5 L119.7 443.3Z" fill="url(#spk2)"/>
<path d="M85.5 441.7 L93 438.3 L97.2 444.2 L93 446.7 L88 446.7Z" fill="#4a70a8"/>
<path d="M85.5 441.7 L93 438.3 L97.2 444.2 L93 446.7 L88 446.7Z" fill="url(#spk2)"/>
<rect x="93" y="433.3" width="2.5" height="1.7" fill="#4a70a8"/>
<rect x="97.2" y="432.5" width="2.5" height="2.2" fill="#4a70a8"/>
<rect x="87.2" y="435" width="2.5" height="1.3" fill="#4a70a8"/>
<path d="M70.5 448.3 L79.7 445 L83 448.3 L79.7 450.8 L73 453.3Z" fill="#4a70a8"/>
<path d="M70.5 448.3 L79.7 445 L83 448.3 L79.7 450.8 L73 453.3Z" fill="url(#spk2)"/>
<rect x="48.8" y="440.8" width="2.5" height="2.5" fill="#7aa8d8"/>
<rect x="48.8" y="445.8" width="2.5" height="4.2" fill="#7aa8d8"/>
<rect x="60.5" y="450" width="1.7" height="2.5" fill="#7aa8d8"/>
<path d="M137.2 448.3 L141.3 443.3 L144.7 447.5 L148 450.8 L141.3 450.8Z" fill="#5580b0"/>
<path d="M137.2 448.3 L141.3 443.3 L144.7 447.5 L148 450.8 L141.3 450.8Z" fill="url(#spk2)"/>
<rect x="143.8" y="453.3" width="1.7" height="2.5" fill="#5580b0"/>
<rect x="55.5" y="462.5" width="3.3" height="1.7" fill="#ffd800"/>
<rect x="154.7" y="462.2" width="4.1" height="1.6" fill="#ffc800"/>
<rect x="50.5" y="460" width="2.5" height="1.7" fill="#5580b0"/>
<rect x="58" y="460.3" width="1.7" height="1.4" fill="#5580b0"/>
<rect x="53" y="413" width="1.3" height="1.2" fill="#7aa8d8"/>
<rect x="98.8" y="423" width="2.2" height="1.7" fill="#7aa8d8"/>
<path d="M170 405.6 L174.5 402.7 L176.7 406.7 L180 411.2 L175.6 412.3 L170 414.5Z" fill="#6a98c8"/>
<path d="M170 405.6 L174.5 402.7 L176.7 406.7 L180 411.2 L175.6 412.3 L170 414.5Z" fill="url(#spk2)"/>
<rect x="188.3" y="420.5" width="3.1" height="3.6" fill="#e8d820"/>
<rect x="187" y="421.4" width="1.7" height="1.8" fill="#7aa8d8"/>
<path d="M205.7 414.5 L210.2 419 L218 421.2 L214.6 422.3 L207.9 420.1Z" fill="#4a9a40"/>
<path d="M201.2 424.5 L214.6 422.3 L216.9 424.5 L211.3 429 L202.4 427.9Z" fill="#4a70a8"/>
<path d="M201.2 424.5 L214.6 422.3 L216.9 424.5 L211.3 429 L202.4 427.9Z" fill="url(#spk2)"/>
<path d="M224.7 475.9 L229.1 471.4 L236.9 474.7 L238 478.1 L244.7 479.2 L247 482.6 L236.9 485.9 L233.6 489.2 L229.1 490.4 L230.2 482.6 L224.7 479.2Z" fill="#3a5a8a"/>
<path d="M224.7 475.9 L229.1 471.4 L236.9 474.7 L238 478.1 L244.7 479.2 L247 482.6 L236.9 485.9 L233.6 489.2 L229.1 490.4 L230.2 482.6 L224.7 479.2Z" fill="url(#spk2)"/>
<path d="M244.7 504.9 L248.1 500.4 L251.4 503.7 L247 507.1Z" fill="#4a70a8"/>
<path d="M244.7 504.9 L248.1 500.4 L251.4 503.7 L247 507.1Z" fill="url(#spk2)"/>
<path d="M247 511.6 L254.8 508.2 L261.5 504.9 L265.9 506.6 L259.2 510.4 L250.3 513.8Z" fill="#6a98c8"/>
<path d="M247 511.6 L254.8 508.2 L261.5 504.9 L265.9 506.6 L259.2 510.4 L250.3 513.8Z" fill="url(#spk2)"/>
<rect x="259.2" y="504.9" width="3.4" height="2.2" fill="#ffa000"/>
<rect x="291.6" y="493.7" width="2.2" height="2.2" fill="#ffb000"/>
<rect x="297.6" y="491.9" width="3.6" height="3.6" fill="#7aa8d8"/>
<rect x="297.2" y="495.5" width="3.3" height="2.7" fill="#ffc000"/>
<rect x="317.3" y="489.9" width="4.4" height="2" fill="#ffe000"/>
<rect x="325.1" y="488.1" width="5.1" height="2.7" fill="#7aa8d8"/>
<rect x="327.3" y="485.9" width="2.9" height="2.2" fill="#ff8800"/>
<rect x="326.2" y="493.7" width="2.7" height="2.7" fill="#ff1000"/>
<rect x="332.9" y="484.3" width="2.2" height="1.6" fill="#ff1000"/>
<rect x="312.3" y="427.2" width="1.6" height="1.8" fill="#4a70a8"/>
<rect x="265.9" y="455.8" width="2.7" height="1.8" fill="#4a70a8"/>
<rect x="231.8" y="440.6" width="1.1" height="1.1" fill="#ff8800"/>
<rect x="178.7" y="455.8" width="1.1" height="1.1" fill="#ff8800"/>
<rect x="268.8" y="490.6" width="1.4" height="1.3" fill="#ff5000"/>
<rect x="234" y="487.5" width="1.6" height="1.7" fill="#ff8800"/>
<path d="M415.3 315.5 L418.4 310.4 L425.5 308.4 L429.6 303.3 L437.7 297.2 L441.7 297.2 L443.8 301.3 L435.7 307.4 L431.6 312.4 L428.5 316.5 L423.5 313.5 L417.4 318.5Z" fill="#3a5f90"/>
<path d="M415.3 315.5 L418.4 310.4 L425.5 308.4 L429.6 303.3 L437.7 297.2 L441.7 297.2 L443.8 301.3 L435.7 307.4 L431.6 312.4 L428.5 316.5 L423.5 313.5 L417.4 318.5Z" fill="url(#spk2)"/>
<rect x="443.8" y="296.2" width="2" height="2" fill="#3a5f90"/>
<rect x="448.9" y="298.2" width="2" height="2" fill="#3a5f90"/>
<rect x="453.9" y="294.1" width="3.1" height="2.1" fill="#3a5f90"/>
<path d="M466.1 306.3 L473.3 302.3 L476.3 296.2 L481.4 300.2 L484.4 303.3 L484.4 310.4 L478.3 309.4 L473.3 313.5 L468.2 315.5 L465.1 310.4Z" fill="#4a70a8"/>
<path d="M466.1 306.3 L473.3 302.3 L476.3 296.2 L481.4 300.2 L484.4 303.3 L484.4 310.4 L478.3 309.4 L473.3 313.5 L468.2 315.5 L465.1 310.4Z" fill="url(#spk2)"/>
<rect x="468.2" y="293.1" width="2" height="3.1" fill="#3a5f90"/>
<rect x="488.5" y="298.2" width="2" height="2" fill="#3a5f90"/>
<rect x="476.9" y="321" width="2" height="1.6" fill="#20a000"/>
<path d="M511.9 332.2 L514.9 330.7 L517 332.8 L517.4 334.8 L512.1 334.6Z" fill="#ffe000"/>
<rect x="428.5" y="322.6" width="3.1" height="3.1" fill="#3a5f90"/>
<rect x="427.9" y="330.1" width="2.7" height="2.7" fill="#3a5f90"/>
<path d="M409.2 365.3 L416.3 361.2 L422.4 362.2 L420.4 365.3 L413.3 366.3Z" fill="#4a70a8"/>
<path d="M409.2 365.3 L416.3 361.2 L422.4 362.2 L420.4 365.3 L413.3 366.3Z" fill="url(#spk2)"/>
<path d="M420.4 365.3 L427.5 365.3 L428.5 369.3 L425.5 372.8 L421.4 370.4Z" fill="#8ab8e8"/>
<path d="M420.4 365.3 L427.5 365.3 L428.5 369.3 L425.5 372.8 L421.4 370.4Z" fill="url(#spk2)"/>
<rect x="412.3" y="368.3" width="2.4" height="2.5" fill="#ff8800"/>
<rect x="432.6" y="354.1" width="3.1" height="1.6" fill="#3a5f90"/>
<rect x="438.7" y="345.6" width="6.1" height="1.4" fill="#3a5f90"/>
<path d="M434.6 380.5 L436.7 374.4 L441.7 368.3 L445.8 366.3 L449.9 368.3 L453.9 368.3 L456 374.4 L456 382.6 L453.9 388.7 L448.9 386.6 L443.8 389.7 L438.7 388.7 L434.6 385.6Z" fill="#3a5f90"/>
<path d="M434.6 380.5 L436.7 374.4 L441.7 368.3 L445.8 366.3 L449.9 368.3 L453.9 368.3 L456 374.4 L456 382.6 L453.9 388.7 L448.9 386.6 L443.8 389.7 L438.7 388.7 L434.6 385.6Z" fill="url(#spk2)"/>
<path d="M441.7 370.4 L447.8 368.3 L453.9 376.5 L451.9 384.6 L445.8 380.5Z" fill="#4a70a8"/>
<path d="M441.7 370.4 L447.8 368.3 L453.9 376.5 L451.9 384.6 L445.8 380.5Z" fill="url(#spk2)"/>
<rect x="428.5" y="388.3" width="4.1" height="2.4" fill="#40a030"/>
<rect x="431.6" y="389.7" width="4.1" height="2" fill="#f0e000"/>
<rect x="436.7" y="389.1" width="2.6" height="4.6" fill="#ff9000"/>
<rect x="421.4" y="388.3" width="2.1" height="2.4" fill="#ff8800"/>
<rect x="423.5" y="389.7" width="5" height="2" fill="#3a5f90"/>
<path d="M411.3 399.8 L414.3 396.8 L416.3 399.8 L414.3 402.9Z" fill="#4a70a8"/>
<path d="M411.3 399.8 L414.3 396.8 L416.3 399.8 L414.3 402.9Z" fill="url(#spk2)"/>
<rect x="416.3" y="399.2" width="9.2" height="2.1" fill="#8ab8e8"/>
<rect x="408.2" y="408" width="4.1" height="1.4" fill="#ff8800"/>
<rect x="409.2" y="412" width="1.7" height="1.5" fill="#ff1000"/>
<rect x="460" y="404.5" width="3.7" height="3.5" fill="#8ab8e8"/>
<rect x="452.9" y="410" width="3.1" height="1.4" fill="#60b060"/>
<rect x="468.2" y="372" width="3" height="2.4" fill="#3a5f90"/>
<rect x="473.9" y="385" width="2" height="1.6" fill="#8ab8e8"/>
<rect x="455" y="393.1" width="1.6" height="1.7" fill="#3a5f90"/>
<path d="M495.6 368.3 L500.7 367.3 L502.7 370.4 L503.7 375.4 L499.7 377.5 L496.6 373.4Z" fill="#6a98c8"/>
<path d="M495.6 368.3 L500.7 367.3 L502.7 370.4 L503.7 375.4 L499.7 377.5 L496.6 373.4Z" fill="url(#spk2)"/>
<path d="M505.8 368.3 L509.8 365.3 L513.9 366.3 L514.9 371.4 L510.9 373.4 L506.8 371.4Z" fill="#8ab8e8"/>
<path d="M505.8 368.3 L509.8 365.3 L513.9 366.3 L514.9 371.4 L510.9 373.4 L506.8 371.4Z" fill="url(#spk2)"/>
<rect x="511.9" y="369.3" width="3" height="3.1" fill="#ff6000"/>
<rect x="503.7" y="368.3" width="3.1" height="2.1" fill="#ffe000"/>
<rect x="497.6" y="376.1" width="2.1" height="1.6" fill="#ff8800"/>
<path d="M499.7 388.7 L501.7 389.7 L502.3 393.7 L499.7 393.7Z" fill="#60a850"/>
<path d="M499.7 393.7 L502.3 393.7 L503.9 397.8 L501.1 396.8Z" fill="#ff9000"/>
<path d="M502.7 385 L505.8 385.6 L506.8 388.7 L504.8 387.6Z" fill="#70c0a0"/>
<rect x="500.1" y="401.9" width="0.8" height="1" fill="#ff1000"/>
<path d="M343.3 232.5 L345.8 234.2 L350 231.7 L351.7 234.2 L355 233.3 L353.3 236.7 L350 237.5 L350.8 240 L347.5 239.2 L345 236.7Z" fill="#ff6a00"/>
<rect x="340.8" y="222" width="5.9" height="2.7" fill="#ff8800"/>
<rect x="335.8" y="224.2" width="4.2" height="2.1" fill="#ff8800"/>
<rect x="330.8" y="225.8" width="1.7" height="2.5" fill="#ff8800"/>
<rect x="342.5" y="217.5" width="2.5" height="2.2" fill="#ff8800"/>
<rect x="325.8" y="240" width="2.5" height="1.7" fill="#ff8800"/>
<rect x="332.5" y="240.8" width="1.7" height="1.2" fill="#ff8800"/>
<rect x="335.8" y="240.8" width="2.2" height="1.7" fill="#ff8800"/>
<rect x="326.7" y="245" width="4.1" height="1.3" fill="#ff8800"/>
<rect x="333.3" y="245.8" width="2.5" height="1.7" fill="#ff8800"/>
<rect x="337.5" y="246.7" width="3.3" height="2.5" fill="#ff8800"/>
<path d="M350 250 L356.7 242.5 L359.2 243.3 L353.3 251.7Z" fill="#ff8800"/>
<rect x="345" y="257" width="5.8" height="0.8" fill="#c06020"/>
<rect x="320" y="269.2" width="1.7" height="1.6" fill="#ff1000"/>
<rect x="368.3" y="192.5" width="1.7" height="2.5" fill="#ffe000"/>
<rect x="372.5" y="193.8" width="1.2" height="0.9" fill="#ffe000"/>
<rect x="363" y="199.2" width="1.2" height="0.8" fill="#ffe000"/>
<rect x="315.8" y="200" width="2.5" height="2.5" fill="#ff1000"/>
<rect x="288.3" y="261.7" width="1.7" height="1.6" fill="#ff1000"/>
<rect x="358.3" y="227.5" width="3.4" height="1.2" fill="#ff8800"/>
<rect x="362.5" y="222.5" width="1.2" height="2.5" fill="#ff8800"/>
<path d="M276.6 175.1 L280.9 171.9 L284.8 172.8 L288.4 169.6 L291.6 168 L292.8 172.8 L295.5 178.1 L293.5 180.7 L292.8 185.2 L289.9 186.6 L286.4 184.9 L282.6 183.7 L279.3 182.6 L278.9 178.7Z" fill="#ff1800"/>
<path d="M280.7 176.3 L285.4 175.7 L287.8 179.3 L285.4 182.2 L281.3 180.4Z" fill="#d01000"/>
<rect x="274.2" y="179.3" width="1.2" height="1.1" fill="#ff8800"/>
<rect x="273.6" y="182.8" width="1.2" height="1.2" fill="#ff8800"/>
<rect x="254.7" y="188.7" width="2.4" height="1.2" fill="#ff1000"/>
<rect x="255" y="188.3" width="2" height="1.4" fill="#ff1000"/>
<rect x="368.3" y="192.5" width="1.7" height="2.5" fill="#ffe000"/>
<rect x="372.5" y="193.7" width="1.2" height="1" fill="#ffe000"/>
<path d="M353.3 325 L356.7 327.5 L358.3 323.3 L361.7 325 L362.5 336.7 L355 336.7 L355 330Z" fill="#ff1800"/>
<path d="M351.7 336.7 L362.5 336.7 L361.7 344.2 L357.5 343.3 L354.2 345 L352.5 340.8Z" fill="#ff7800"/>
<rect x="313.3" y="333.3" width="2.5" height="1.7" fill="#ff1000"/>
<rect x="319.2" y="332.5" width="2.5" height="1.7" fill="#ff1000"/>
<rect x="295" y="339.2" width="1.7" height="2.5" fill="#ff8800"/>
<rect x="302.2" y="360" width="1.6" height="1.7" fill="#ff5000"/>
<rect x="297" y="335" width="1.3" height="1.7" fill="#ff8800"/>
<rect x="320.8" y="270" width="1.2" height="1" fill="#ff1000"/>
<rect x="706.4" y="208.2" width="6.6" height="2.7" fill="#ff5000"/>
<rect x="704.1" y="290.2" width="8.3" height="2" fill="#ff8800"/>
<rect x="708" y="315.1" width="5" height="1.3" fill="#ff8800"/>
<rect x="704.7" y="336" width="6.7" height="2" fill="#ff2000"/>
<rect x="704.1" y="351" width="5.6" height="1.6" fill="#40b020"/>
<rect x="705.7" y="346" width="2" height="2.6" fill="#40b020"/>
<rect x="699.8" y="370.9" width="3.9" height="2.3" fill="#70d0c0"/>
<rect x="697.1" y="373.9" width="6" height="2" fill="#ff8800"/>
<rect x="85.5" y="227.5" width="3.7" height="3.7" fill="#ff1000"/>
<rect x="48.8" y="260.2" width="1.7" height="1.1" fill="#d00000"/>
<rect x="53" y="262.7" width="3.3" height="1.1" fill="#d00000"/>
<rect x="63.8" y="274.3" width="2.5" height="1.7" fill="#d00000"/>
<rect x="68.8" y="274.7" width="2.9" height="1.8" fill="#d00000"/>
<path d="M439 484.1 L440 483.9 L443 487.7 L442.3 489 L441.3 487.7Z" fill="#4a70a8"/>
<path d="M439 484.1 L440 483.9 L443 487.7 L442.3 489 L441.3 487.7Z" fill="url(#spk2)"/>
<path d="M438 487.4 L439.4 487.2 L439.7 489 L438.4 489.7Z" fill="#4a70a8"/>
<path d="M438 487.4 L439.4 487.2 L439.7 489 L438.4 489.7Z" fill="url(#spk2)"/>
<path d="M435.1 491.3 L436.1 491.7 L437.6 493.5 L435.2 493.8Z" fill="#5a60a8"/>
<path d="M443 490 L444 490 L445.3 492.3 L444.3 493Z" fill="#8ab8e8"/>
<path d="M443 490 L444 490 L445.3 492.3 L444.3 493Z" fill="url(#spk2)"/>
<path d="M444.9 493 L445.7 492.8 L447 494.4 L446.2 494.9Z" fill="#30a010"/>
<path d="M439 496.6 L440.5 494.9 L442 496.6Z" fill="#8ab8e8"/>
<path d="M439 496.6 L440.5 494.9 L442 496.6Z" fill="url(#spk2)"/>
<path d="M444.9 487.2 L445.6 485.2 L446.6 486.4 L448.1 487.2 L447.9 488 L445.1 488Z" fill="#ffa000"/>
</g>
<path d="M49 45h47v1h-47zM96 46h61v1h-61zM157 47h86v1h-86zM243 48h267v1h-267zM510 47h88v1h-88zM598 46h59v1h-59zM657 45h51v1h-51zM49 189h20v1h-20zM69 190h62v1h-62zM131 191h61v1h-61zM192 192h148v1h-148zM340 193h74v1h-74zM414 192h135v1h-135zM549 191h76v1h-76zM625 190h48v1h-48zM673 189h41v1h-41zM49 333h5v1h-5zM54 334h50v1h-50zM104 335h62v1h-62zM166 336h87v1h-87zM253 337h236v1h-236zM489 336h100v1h-100zM589 335h62v1h-62zM651 334h50v1h-50zM701 333h13v1h-13zM49 478h27v1h-27zM76 479h63v1h-63zM139 480h75v1h-75zM214 481h327v1h-327zM541 480h74v1h-74zM615 479h51v1h-51zM666 478h48v1h-48zM110 51v6h1v-6zM109 57v62h1v-62zM108 119v58h1v-58zM107 177v46h1v-46zM106 223v59h1v-59zM105 282v52h1v-52zM104 334v57h1v-57zM103 391v60h1v-60zM102 451v56h1v-56zM101 507v50h1v-50zM100 557v19h1v-19zM234 53v81h1v-81zM233 134v100h1v-100zM232 234v100h1v-100zM231 334v100h1v-100zM230 434v103h1v-103zM229 537v39h1v-39zM359 53v267h1v-267zM358 320v256h1v-256zM483 53v158h1v-158zM484 211v120h1v-120zM485 331v152h1v-152zM486 483v93h1v-93zM608 51v44h1v-44zM609 95v62h1v-62zM610 157v63h1v-63zM611 220v62h1v-62zM612 282v63h1v-63zM613 345v62h1v-62zM614 407v63h1v-63zM615 470v62h1v-62zM616 532v44h1v-44z" fill="#fff" shape-rendering="crispEdges"/>
<rect x="48" y="580" width="667" height="21" fill="#000" shape-rendering="crispEdges"/>
<rect x="49" y="581" width="665" height="19" fill="url(#cb)" shape-rendering="crispEdges"/>
<g id="logo" transform="translate(686.7,636.8)">
<circle r="25" fill="#0a0af0"/>
<circle r="19.8" fill="#ffff00"/>
<defs>
<path id="arcT" d="M-22.1 0A22.1 22.1 0 0 1 22.1 0"/>
<path id="arcB" d="M-23.6 0A23.6 23.6 0 0 0 23.6 0"/>
</defs>
<text font-family="Liberation Sans, sans-serif" font-size="3.6" font-weight="bold" fill="#e8e860" letter-spacing="0.25"><textPath href="#arcT" startOffset="50%" text-anchor="middle">NAVAL RESEARCH LABORATORY</textPath></text>
<text font-family="Liberation Sans, sans-serif" font-size="3.6" font-weight="bold" fill="#e8e860" letter-spacing="0.3"><textPath href="#arcB" startOffset="50%" text-anchor="middle">STENNIS SPACE CENTER, MS</textPath></text>
<circle cx="-22.3" cy="3" r="0.6" fill="#e8e860"/><circle cx="22.3" cy="3" r="0.6" fill="#e8e860"/>
<!-- shield -->
<path d="M-12.6 -15.4 L-6 -14.6 L0 -15.6 L6 -14.6 L12.6 -15.4 L12 -3 L12.8 4 L13.3 9 L11 14 L6 17 L0 19 L-6 17 L-11 14 L-13.3 9 L-12.8 4 L-12 -3Z" fill="#ffff00" stroke="#9a9a30" stroke-width="0.6"/>
<path d="M-10.8 -13.6 L-5 -13 L0 -13.8 L0 -0.6 L-10.2 -0.6 L-10.4 -6Z" fill="#0a0af0"/>
<path d="M0 -0.2 L10.6 -0.2 L11.6 5 L12 9 L9.8 13 L5 16 L0 17.6Z" fill="#0a0af0"/>
<path d="M-10.8 -13.6 L-5 -13 L0 -13.8 L5 -13 L10.8 -13.6 L10.4 -6 L10.3 -0.4 L11.4 5 L11.8 9 L9.8 13 L5 16 L0 17.6 L-5 16 L-9.8 13 L-11.8 9 L-11.4 5 L-10.3 -0.4 L-10.4 -6Z" fill="none" stroke="#9a9a30" stroke-width="0.5"/>
<path d="M0 -13.8V17.6M-10.3 -0.4H10.3" stroke="#9a9a30" stroke-width="0.4" fill="none"/>
<!-- TL emblem -->
<path d="M-8.2 -11 L-6.5 -8.5 L-5.3 -10.5 L-4 -8.5 L-2.4 -11 L-2.8 -6 L-4 -4 L-2.6 -3 L-5.3 -2.6 L-8 -3 L-6.6 -4 L-7.8 -6Z" fill="none" stroke="#e8e860" stroke-width="0.7"/>
<!-- TR emblem -->
<path d="M5.2 -11.5V-3.5M3.2 -9.5V-6.5H7.2V-9.5M2.8 -3.4H8M3.6 -5.2L5.2 -3.6L6.8 -5.2" stroke="#2020c0" stroke-width="0.7" fill="none"/>
<!-- BL emblem -->
<circle cx="-6.3" cy="7.4" r="4.1" fill="none" stroke="#6a6a20" stroke-width="0.5"/>
<path d="M-8.6 7 q1.1 2.6 2.3 0 q1.2 2.6 2.3 0M-6.3 5.6v1.8" stroke="#6a6a20" stroke-width="0.5" fill="none"/>
<!-- BR emblem -->
<path d="M2 3.5 L6.5 2 L8.5 4.5 L6 7 L8 9.5 L4.5 11 L3 14.5 L1.5 10 L3 6.5Z" fill="none" stroke="#e8e860" stroke-width="0.6" stroke-dasharray="1 0.7"/>
<circle cx="6.2" cy="4.4" r="0.9" fill="#e8e860"/><circle cx="4.4" cy="9" r="0.6" fill="#e8e860"/><circle cx="8.4" cy="8" r="0.5" fill="#e8e860"/><circle cx="2.2" cy="12.4" r="0.5" fill="#e8e860"/>
</g>

</svg>
<div class="t" id="t1" style="left:48px;top:2px;font-size:14px;letter-spacing:0.143px;">npp.2016003.0103.D.L4_DAY.viirsn.BonnetCarre2016.v05.750m.hdf</div>
<div class="t" id="t2" style="left:508px;top:2px;font-size:14px;letter-spacing:-0.03px;">Sun Jan  3 2016 Daily Composite</div>
<div class="t" id="t3" style="left:201px;top:16px;font-size:14px;letter-spacing:0.32px;">Diffuse attenuation coefficient at 486 nm, Lee Algorithm</div>
<div class="t a" style="left:34px;top:31px;">31°N</div>
<div class="t a" style="left:95px;top:31px;">91°W</div>
<div class="t a" style="left:220px;top:31px;">90°W</div>
<div class="t a" style="left:344px;top:31px;">89°W</div>
<div class="t a" style="left:469px;top:31px;">88°W</div>
<div class="t a" style="left:593px;top:31px;">87°W</div>
<div class="t a" style="left:18px;top:40px;">31°N</div>
<div class="t a" style="left:16px;top:46.5px;">88°W</div>
<div class="t a" style="left:16px;top:46.5px;">89°W</div>
<div class="t a" style="left:16px;top:46.5px;">87°W</div>
<div class="t a" style="left:17.5px;top:184px;">30°N</div>
<div class="t a" style="left:17.5px;top:329px;">29°N</div>
<div class="t a" style="left:17.5px;top:473px;">28°N</div>
<div class="t a" style="left:716px;top:184px;">30°N</div>
<div class="t a" style="left:716px;top:329px;">29°N</div>
<div class="t a" style="left:716px;top:473px;">28°N</div>
<div class="t a" style="left:716px;top:40px;">31°N</div>
<div class="t a" style="left:716px;top:45px;">89°W</div>
<div class="t a" style="left:716px;top:46px;">90°W</div>
<div class="t a" style="left:716px;top:47px;">91°W</div>
<div class="t a" style="left:16px;top:570.5px;">89°W</div>
<div class="t a" style="left:16px;top:571px;">90°W</div>
<div class="t a" style="left:16px;top:572px;">91°W</div>
<div class="t a" style="left:716px;top:571px;">87°W</div>
<div class="t a" style="left:716px;top:572px;">88°W</div>
<div class="t c" style="left:36.5px;top:602px;">0.01</div>
<div class="t c" style="left:166px;top:602px;">0.035</div>
<div class="t c" style="left:302px;top:602px;">0.12</div>
<div class="t c" style="left:367px;top:602px;">m^-1</div>
<div class="t c" style="left:436px;top:602px;">0.42</div>
<div class="t c" style="left:572px;top:602px;">1.4</div>
<div class="t c" style="left:711px;top:602px;">5</div>
<div class="t" style="left:48px;top:618px;">Kd_486_lee</div>
<div class="t" style="left:48px;top:633px;">BonnetCarre2016 (VIIRSN-npp)</div>
<div class="t" style="left:48px;top:648px;letter-spacing:0.2px;">Version 5</div>
<div class="t" style="left:381px;top:618px;letter-spacing:0.1px;">Code 7330/Ocean Sciences</div>
<div class="t" style="left:381px;top:633px;">Naval Research Laboratory</div>
<div class="t" style="left:381px;top:648px;">Stennis Space Center, MS</div>

</body></html>
